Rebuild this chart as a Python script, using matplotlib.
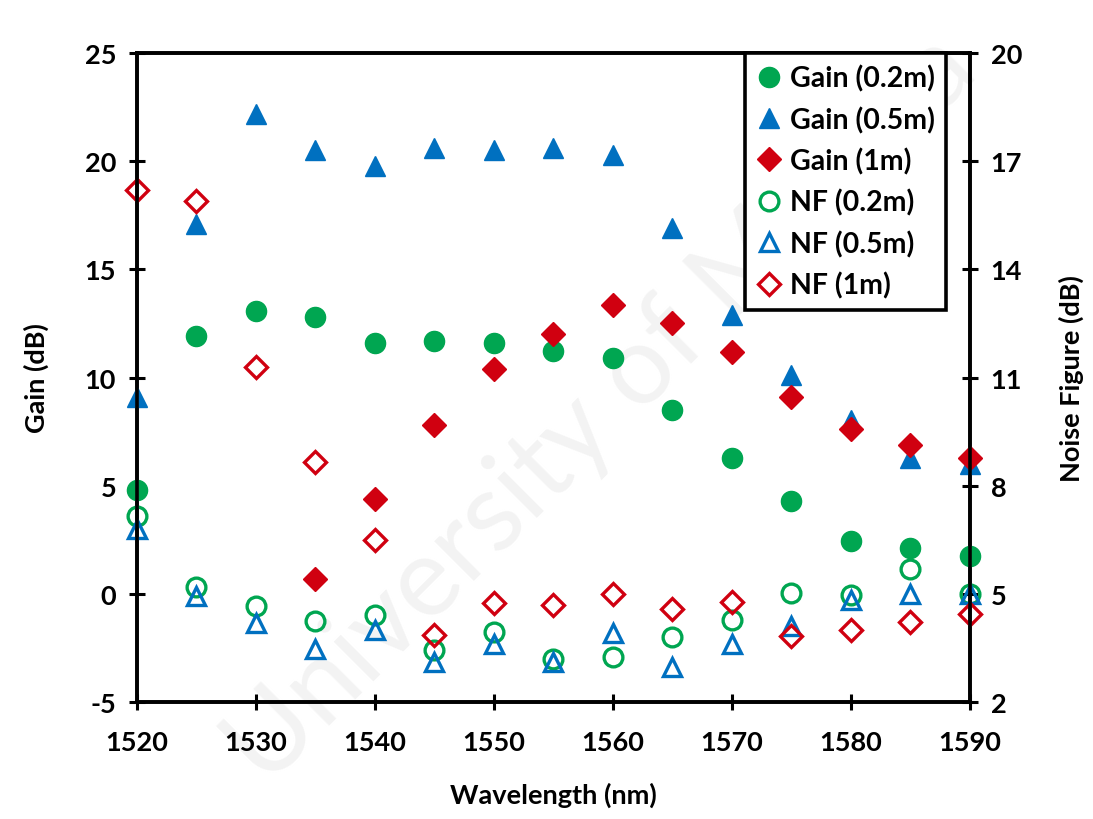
import matplotlib
matplotlib.use("Agg")
import matplotlib.pyplot as plt

plt.rcParams['font.family'] = ['Lato', 'DejaVu Sans']
plt.rcParams['font.weight'] = 'bold'
plt.rcParams['axes.unicode_minus'] = False

wavelength = [1520, 1525, 1530, 1535, 1540, 1545, 1550, 1555, 1560, 1565, 1570, 1575, 1580, 1585, 1590]

gain_02 = [4.8, 11.9, 13.1, 12.8, 11.6, 11.7, 11.6, 11.25, 10.9, 8.5, 6.3, 4.3, 2.45, 2.1, 1.75]
gain_05 = [9.1, 17.1, 22.2, 20.5, 19.8, 20.6, 20.5, 20.6, 20.3, 16.9, 12.9, 10.1, 8.05, 6.3, 6.0]
wl_gain_1 = [1535, 1540, 1545, 1550, 1555, 1560, 1565, 1570, 1575, 1580, 1585, 1590]
gain_1 = [0.7, 4.4, 7.8, 10.4, 12.0, 13.35, 12.5, 11.2, 9.1, 7.6, 6.9, 6.3]

nf_02 = [7.17, 5.2, 4.67, 4.25, 4.4, 3.45, 3.95, 3.2, 3.25, 3.8, 4.28, 5.03, 4.97, 5.7, 5.0]
nf_05 = [6.8, 4.95, 4.2, 3.47, 4.0, 3.1, 3.6, 3.1, 3.9, 2.97, 3.6, 4.1, 4.83, 5.0, 5.0]
nf_1 = [16.2, 15.9, 11.28, 8.67, 6.5, 3.86, 4.75, 4.7, 5.0, 4.58, 4.78, 3.83, 4.0, 4.22, 4.45]

GREEN = '#00A651'
BLUE = '#0070C0'
RED = '#D00010'
FS = 19.5

fig = plt.figure(figsize=(10.93, 8.2), dpi=100)
ax = fig.add_axes([0.1253, 0.1427, 0.762, 0.7913])
ax2 = ax.twinx()

# faint watermark behind everything
fig.text(0.55, 0.50, 'University of Malaya', fontsize=80, color='#f3f3f3',
         rotation=45, ha='center', va='center', fontweight='normal', zorder=-10)
ax.patch.set_alpha(0)
ax2.patch.set_alpha(0)

h1, = ax.plot(wavelength, gain_02, 'o', color=GREEN, ms=14.5, mec=GREEN, ls='none', label='Gain (0.2m)', clip_on=False, zorder=3)
h2, = ax.plot(wavelength, gain_05, '^', color=BLUE, ms=14, mec=BLUE, ls='none', label='Gain (0.5m)', clip_on=False, zorder=3)
h3, = ax.plot(wl_gain_1, gain_1, 'D', color=RED, ms=12, mec=RED, ls='none', label='Gain (1m)', clip_on=False, zorder=3)
h4, = ax2.plot(wavelength, nf_02, 'o', mfc='none', mec=GREEN, mew=2.4, ms=13.5, ls='none', label='NF (0.2m)', clip_on=False)
h5, = ax2.plot(wavelength, nf_05, '^', mfc='none', mec=BLUE, mew=2.4, ms=13, ls='none', label='NF (0.5m)', clip_on=False)
h6, = ax2.plot(wavelength, nf_1, 'D', mfc='none', mec=RED, mew=2.4, ms=11, ls='none', label='NF (1m)', clip_on=False)

ax.set_xlim(1520, 1590)
ax.set_ylim(-5, 25)
ax2.set_ylim(2, 20)
ax.set_xticks([1520, 1530, 1540, 1550, 1560, 1570, 1580, 1590])
ax.set_yticks([-5, 0, 5, 10, 15, 20, 25])
ax2.set_yticks([2, 5, 8, 11, 14, 17, 20])

for a in (ax, ax2):
    for s in a.spines.values():
        s.set_linewidth(2.6)
    a.tick_params(direction='inout', length=12, width=2.2, labelsize=FS, pad=9)
ax.tick_params(axis='x', pad=14)
for lab in ax.get_xticklabels() + ax.get_yticklabels() + ax2.get_yticklabels():
    lab.set_fontweight('bold')

ax.set_xlabel('Wavelength (nm)', fontsize=FS, fontweight='bold', labelpad=20)
ax.set_ylabel('Gain (dB)', fontsize=FS, fontweight='bold', labelpad=26)
ax2.set_ylabel('Noise Figure (dB)', fontsize=FS, fontweight='bold', labelpad=26)

leg = ax2.legend(handles=[h1, h2, h3, h4, h5, h6], loc='upper right',
                 bbox_to_anchor=(0.972, 1.0), fontsize=20.5, frameon=True,
                 fancybox=False, handletextpad=0.3, handlelength=0.9,
                 labelspacing=0.5, borderpad=0.4, borderaxespad=0.0,
                 framealpha=1.0)
leg.get_frame().set_edgecolor('black')
leg.get_frame().set_linewidth(2.6)
leg.set_zorder(5)
for t in leg.get_texts():
    t.set_fontweight('bold')

fig.savefig('out.png', dpi=100)
